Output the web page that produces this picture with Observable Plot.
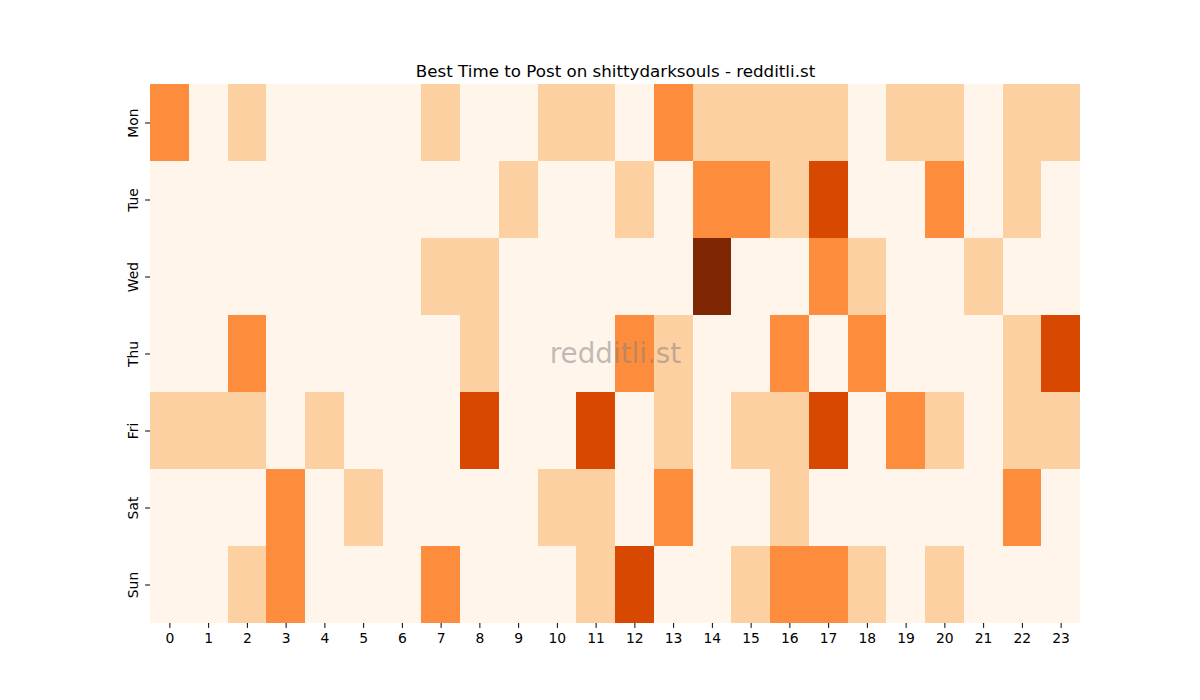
<!DOCTYPE html>
<html>
<head>
<meta charset="utf-8">
<script src="https://cdn.jsdelivr.net/npm/d3@7"></script>
<script src="https://cdn.jsdelivr.net/npm/@observablehq/plot@0.6"></script>
<style>
  html, body { margin: 0; padding: 0; background: #ffffff; }
  #chart { width: 1200px; height: 700px; }
</style>
</head>
<body>
<div id="chart"></div>
<script>
const title = "Best Time to Post on shittydarksouls - redditli.st";
const watermark = "redditli.st";
const days = ["Mon", "Tue", "Wed", "Thu", "Fri", "Sat", "Sun"];
const hours = [0,1,2,3,4,5,6,7,8,9,10,11,12,13,14,15,16,17,18,19,20,21,22,23];

const mon = [2,0,1,0,0,0,0,1,0,0,1,1,0,2,1,1,1,1,0,1,1,0,1,1];
const tue = [0,0,0,0,0,0,0,0,0,1,0,0,1,0,2,2,1,3,0,0,2,0,1,0];
const wed = [0,0,0,0,0,0,0,1,1,0,0,0,0,0,4,0,0,2,1,0,0,1,0,0];
const thu = [0,0,2,0,0,0,0,0,1,0,0,0,2,1,0,0,2,0,2,0,0,0,1,3];
const fri = [1,1,1,0,1,0,0,0,3,0,0,3,0,1,0,1,1,3,0,2,1,0,1,1];
const sat = [0,0,0,2,0,1,0,0,0,0,1,1,0,2,0,0,1,0,0,0,0,0,2,0];
const sun = [0,0,1,2,0,0,0,2,0,0,0,1,3,0,0,1,2,2,1,0,1,0,0,0];
const rows = [mon, tue, wed, thu, fri, sat, sun];

const cells = [];
days.forEach((d, i) => hours.forEach((h, j) => cells.push({day: d, hour: h, value: rows[i][j]})));

const chart = Plot.plot({
  width: 1200,
  height: 700,
  marginLeft: 150,
  marginRight: 120,
  marginTop: 84,
  marginBottom: 77,
  style: {fontFamily: "DejaVu Sans", fontSize: "13.9px", color: "#000", background: "#fff"},
  x: {type: "band", domain: hours, padding: 0, round: false, label: null},
  y: {type: "band", domain: days, padding: 0, round: false, label: null},
  color: {type: "linear", domain: [0, 1, 2, 3, 4], range: ["#fff5eb", "#fdd0a2", "#fd8d3c", "#d94801", "#7f2704"]},
  marks: [
    Plot.cell(cells, {x: "hour", y: "day", fill: "value", inset: 0, shapeRendering: "crispEdges"}),
    Plot.axisX({anchor: "bottom", tickSize: 4.9, tickPadding: 4.9, fontSize: 13.9, stroke: "#000"}),
    Plot.axisY({anchor: "left", tickSize: 4.9, tickPadding: 8, tickRotate: -90, fontSize: 13.9, stroke: "#000"}),
    Plot.text([title], {frameAnchor: "top", dy: -8, lineAnchor: "bottom", textAnchor: "middle", fontSize: 16.7, fill: "#000"}),
    Plot.text([watermark], {frameAnchor: "middle", textAnchor: "middle", lineAnchor: "middle", fontSize: 27.8, fill: "#808080", fillOpacity: 0.5})
  ]
});
document.getElementById("chart").appendChild(chart);
</script>
</body>
</html>
